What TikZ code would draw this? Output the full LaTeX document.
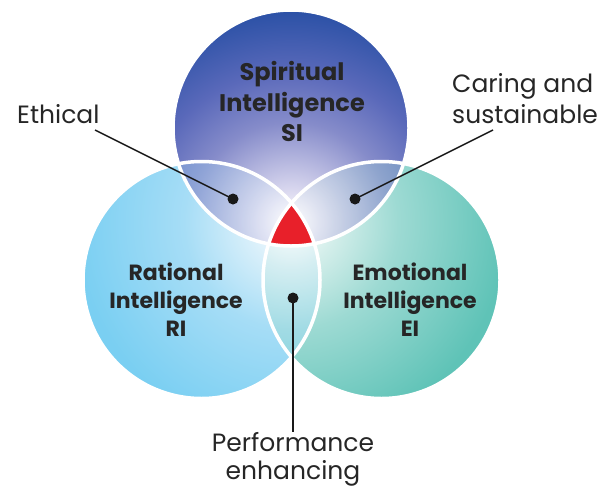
\documentclass[tikz,border=0pt]{standalone}
\usepackage{fontspec}
\setmainfont{Poppins}
\definecolor{tA}{HTML}{DCDAF0}
\definecolor{tB}{HTML}{868CCA}
\definecolor{tC}{HTML}{5A69BA}
\definecolor{tD}{HTML}{2B51A6}
\definecolor{lA}{HTML}{D8EFFA}
\definecolor{lB}{HTML}{A6DDF6}
\definecolor{lC}{HTML}{7ACFF2}
\definecolor{rA}{HTML}{D3EEEA}
\definecolor{rB}{HTML}{9DDAD3}
\definecolor{rC}{HTML}{5FC3B7}
\definecolor{core}{HTML}{E8202A}
\pgfdeclareradialshading{topshade}{\pgfpoint{0bp}{0bp}}{color(0bp)=(white); color(3.25bp)=(tA); color(10.85bp)=(tB); color(16.3bp)=(tC); color(23bp)=(tD); color(50bp)=(tD)}
\pgfdeclareradialshading{leftshade}{\pgfpoint{0bp}{0bp}}{color(0bp)=(white); color(4.9bp)=(lA); color(11.65bp)=(lB); color(23.5bp)=(lC); color(50bp)=(lC)}
\pgfdeclareradialshading{rightshade}{\pgfpoint{0bp}{0bp}}{color(0bp)=(white); color(4.9bp)=(rA); color(11.65bp)=(rB); color(23.5bp)=(rC); color(50bp)=(rC)}
\begin{document}
\begin{tikzpicture}[x=1pt,y=-1pt,
  lab/.style={inner sep=0pt, font=\fontsize{25}{30}\selectfont, text=black!85},
  biglab/.style={inner sep=0pt, font=\fontsize{24}{30}\selectfont\bfseries, text=black!85},
  midlab/.style={inner sep=0pt, font=\fontsize{22}{28}\selectfont\bfseries, text=black!85},
  ring/.style={draw=white, line width=3.5pt},
  conn/.style={draw=black!90, line width=1.4pt},
  dotmark/.style={circle, fill=black!90, inner sep=0pt, minimum size=11pt}]
\useasboundingbox (0,0) rectangle (604,487);
\coordinate (T) at (291,128);
\coordinate (L) at (201.5,280);
\coordinate (R) at (381.5,280);
\coordinate (C) at (291,222);
\def\rT{118pt}
\def\rB{118.5pt}
% left and right circles
\begin{scope}
  \clip (L) circle (\rB);
  \shade[shading=leftshade] (C) circle (230pt);
\end{scope}
\begin{scope}
  \clip (R) circle (\rB);
  \shade[shading=rightshade] (C) circle (230pt);
\end{scope}
% overlap of left and right
\begin{scope}
  \clip (R) circle (\rB);
  \clip (L) circle (\rB);
  \shade[shading=leftshade, opacity=0.5] (C) circle (230pt);
\end{scope}
% top circle
\begin{scope}
  \clip (T) circle (\rT);
  \shade[shading=topshade] (C) circle (230pt);
\end{scope}
\begin{scope}
  \clip (T) circle (\rT);
  \clip (L) circle (\rB);
  \shade[shading=leftshade, opacity=0.3] (C) circle (230pt);
\end{scope}
\begin{scope}
  \clip (T) circle (\rT);
  \clip (R) circle (\rB);
  \shade[shading=rightshade, opacity=0.3] (C) circle (230pt);
\end{scope}
% red core
\begin{scope}
  \clip (T) circle (\rT);
  \clip (L) circle (\rB);
  \fill[core] (R) circle (\rB);
\end{scope}
% white rings
\draw[ring] (L) circle (\rB);
\draw[ring] (R) circle (\rB);
\draw[ring] (T) circle (\rT);
% circle labels
\node[biglab, anchor=base] (si1) at (292,80) {Spiritual};
\node[biglab, anchor=base] (si2) at (292,111) {Intelligence};
\node[biglab, anchor=base] (si3) at (292,141) {SI};
\node[midlab, anchor=base] (ri1) at (176,280) {Rational};
\node[midlab, anchor=base] (ri2) at (176,308) {Intelligence};
\node[midlab, anchor=base] (ri3) at (176,336) {RI};
\node[midlab, anchor=base] (ei1) at (410,280) {Emotional};
\node[midlab, anchor=base] (ei2) at (410,308) {Intelligence};
\node[midlab, anchor=base] (ei3) at (410,336) {EI};
% outer labels
\node[lab, anchor=base west] (eth) at (17,123) {Ethical};
\node[lab, anchor=base west] (car1) at (452,92) {Caring and};
\node[lab, anchor=base west] (car2) at (452,123) {sustainable};
\node[lab, anchor=base] (per1) at (293,451) {Performance};
\node[lab, anchor=base] (per2) at (293,479) {enhancing};
% dots and connectors
\node[dotmark] (dE) at (233,199) {};
\node[dotmark] (dC) at (355,199) {};
\node[dotmark] (dP) at (293,298) {};
\coordinate (eE) at (95,130);
\coordinate (eC) at (493,130);
\coordinate (eP) at (293,432);
\draw[conn] (eE) -- (dE.center);
\draw[conn] (eC) -- (dC.center);
\draw[conn] (dP.center) -- (eP);
\end{tikzpicture}
\end{document}
